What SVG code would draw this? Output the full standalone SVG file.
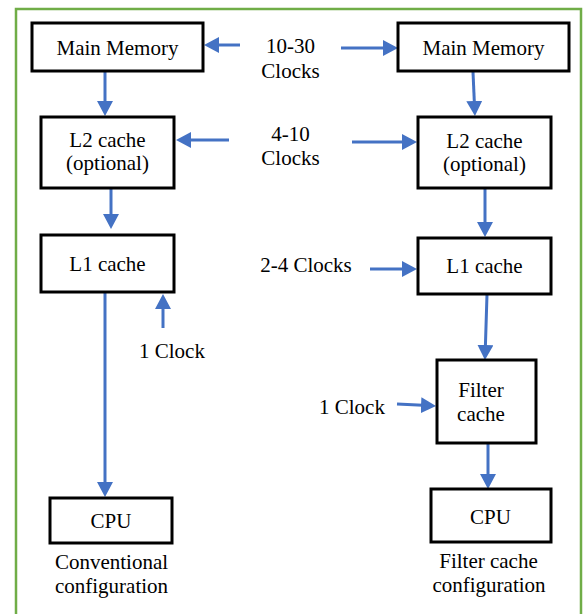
<svg xmlns="http://www.w3.org/2000/svg" width="584" height="614" viewBox="0 0 584 614">
<defs>
<marker id="ah" markerUnits="userSpaceOnUse" markerWidth="16" markerHeight="16" refX="7" refY="8" orient="auto" viewBox="0 0 16 16">
<path d="M0,0 L15,8 L0,16 Z" fill="#4472C4"/>
</marker>
<style>
.box{fill:#fff;stroke:#000;stroke-width:3}
.t{font-size:21px;fill:#000;text-anchor:middle}
.c{stroke:#4472C4;stroke-width:3;fill:none;marker-end:url(#ah)}
</style>
</defs>
<rect width="584" height="614" fill="#fff"/>
<path d="M16,620 L16,9 L581,9 L581,620" fill="none" stroke="#70AD47" stroke-width="2.5"/>

<g id="connectors">
<line class="c" x1="105" y1="72" x2="105" y2="108"/>
<line class="c" x1="111" y1="188" x2="111" y2="221"/>
<line class="c" x1="105" y1="292" x2="105" y2="489"/>
<line class="c" x1="163" y1="328" x2="163" y2="302"/>
<line class="c" x1="240" y1="45" x2="212" y2="45"/>
<line class="c" x1="341" y1="48" x2="390" y2="48"/>
<line class="c" x1="229" y1="140" x2="184" y2="140"/>
<line class="c" x1="352" y1="142" x2="409" y2="142"/>
<line class="c" x1="370" y1="269" x2="409" y2="269"/>
<line class="c" x1="397" y1="404" x2="428" y2="405.6"/>
<line class="c" x1="473" y1="72" x2="474.6" y2="108"/>
<line class="c" x1="485" y1="189" x2="485" y2="229"/>
<line class="c" x1="487" y1="295" x2="485.2" y2="352"/>
<line class="c" x1="488" y1="444" x2="488" y2="481"/>
</g>

<g font-family="'Liberation Serif', 'Times New Roman', Tinos, 'DejaVu Serif', serif">
<g id="left-main-memory">
<rect class="box" x="32" y="23" width="171" height="48"/>
<text class="t" x="117.5" y="55">Main Memory</text>
</g>
<g id="left-l2">
<rect class="box" x="41" y="117" width="133" height="71"/>
<text class="t" x="107.5" y="147">L2 cache</text>
<text class="t" x="107.5" y="170">(optional)</text>
</g>
<g id="left-l1">
<rect class="box" x="41" y="235" width="133" height="57"/>
<text class="t" x="107.5" y="271">L1 cache</text>
</g>
<g id="left-cpu">
<rect class="box" x="50" y="498" width="122" height="45"/>
<text class="t" x="111" y="528">CPU</text>
</g>
<g id="right-main-memory">
<rect class="box" x="398" y="23" width="171" height="48"/>
<text class="t" x="483.5" y="55">Main Memory</text>
</g>
<g id="right-l2">
<rect class="box" x="418" y="117" width="133" height="71"/>
<text class="t" x="484.5" y="148">L2 cache</text>
<text class="t" x="484.5" y="171">(optional)</text>
</g>
<g id="right-l1">
<rect class="box" x="418" y="238" width="133" height="56"/>
<text class="t" x="484.5" y="273">L1 cache</text>
</g>
<g id="right-filter">
<rect class="box" x="437" y="360" width="99" height="83"/>
<text class="t" x="481" y="397">Filter</text>
<text class="t" x="481" y="421">cache</text>
</g>
<g id="right-cpu">
<rect class="box" x="431" y="489" width="120" height="53"/>
<text class="t" x="490.5" y="524">CPU</text>
</g>

<g id="labels">
<text class="t" x="290.5" y="53">10-30</text>
<text class="t" x="290.5" y="78">Clocks</text>
<text class="t" x="290.5" y="141">4-10</text>
<text class="t" x="290.5" y="165">Clocks</text>
<text class="t" x="306" y="272">2-4 Clocks</text>
<text class="t" x="172" y="358">1 Clock</text>
<text class="t" x="352" y="414">1 Clock</text>
<text class="t" x="111.5" y="569">Conventional</text>
<text class="t" x="111.5" y="593">configuration</text>
<text class="t" x="488.5" y="568">Filter cache</text>
<text class="t" x="489" y="592">configuration</text>
</g>
</g>
</svg>
